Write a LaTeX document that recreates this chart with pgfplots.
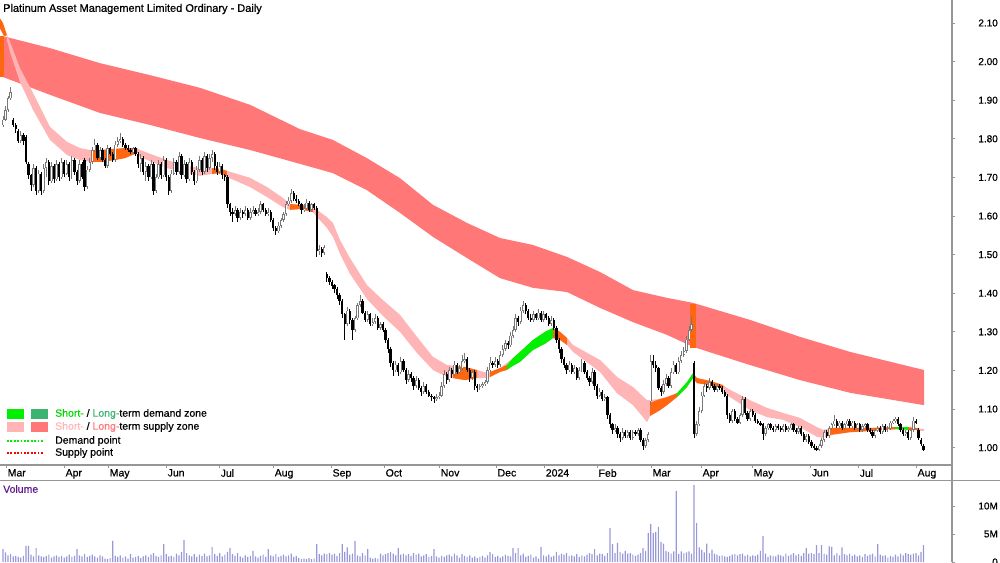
\documentclass[border=0pt]{standalone}
\usepackage{pgfplots}
\pgfplotsset{compat=1.18}
\usepackage{pgfplotstable}
\usepackage{fontspec}
\setmainfont{Liberation Sans}[BoldFont={Liberation Sans}, BoldFeatures={FakeBold=0.6}]
\definecolor{longz}{RGB}{255,119,119}
\definecolor{shortz}{RGB}{255,181,181}
\definecolor{orz}{RGB}{255,102,16}
\definecolor{grz}{RGB}{0,240,0}
\definecolor{dgz}{RGB}{60,179,113}
\definecolor{grt}{RGB}{0,215,0}
\definecolor{volc}{RGB}{152,152,216}
\definecolor{upc}{RGB}{120,120,120}
\definecolor{axc}{RGB}{150,150,150}
\definecolor{volt}{RGB}{95,25,140}
\newcommand\lab{\fontsize{10}{12}\selectfont\bfseries}
\newcommand\mlab{\fontsize{10.5}{12}\selectfont\bfseries}
\newcommand\leg{\fontsize{10.5}{12}\selectfont\bfseries}

\pgfplotstableread{
i o h l c v
0 1.835 1.860 1.830 1.850 2.3
1 1.850 1.885 1.845 1.875 1.7
2 1.875 1.910 1.870 1.905 1.2
3 1.905 1.935 1.900 1.920 1.4
4 1.850 1.855 1.830 1.835 1.0
5 1.835 1.840 1.815 1.825 1.1
6 1.820 1.825 1.790 1.795 0.9
7 1.795 1.820 1.790 1.810 0.8
8 1.810 1.815 1.785 1.795 1.1
9 1.805 1.810 1.735 1.740 2.9
10 1.735 1.740 1.695 1.705 2.9
11 1.705 1.710 1.665 1.680 1.3
12 1.680 1.735 1.675 1.725 1.0
13 1.725 1.730 1.655 1.665 2.5
14 1.665 1.720 1.660 1.710 1.2
15 1.710 1.715 1.655 1.665 1.0
16 1.665 1.735 1.660 1.725 0.9
17 1.725 1.750 1.700 1.740 1.1
18 1.740 1.745 1.680 1.690 1.3
19 1.690 1.740 1.685 1.730 0.8
20 1.730 1.735 1.685 1.695 1.0
21 1.695 1.745 1.690 1.735 1.2
22 1.735 1.740 1.690 1.700 0.9
23 1.700 1.750 1.695 1.740 1.1
24 1.740 1.745 1.700 1.710 0.8
25 1.710 1.745 1.705 1.735 1.0
26 1.735 1.740 1.690 1.700 1.3
27 1.700 1.755 1.695 1.745 0.9
28 1.745 1.750 1.705 1.715 1.1
29 1.715 1.720 1.680 1.690 2.3
30 1.690 1.745 1.685 1.735 1.2
31 1.735 1.740 1.695 1.700 1.0
32 1.745 1.750 1.665 1.675 1.4
33 1.675 1.730 1.670 1.720 0.9
34 1.720 1.750 1.715 1.740 1.1
35 1.740 1.780 1.735 1.770 1.3
36 1.770 1.800 1.765 1.785 1.0
37 1.785 1.790 1.745 1.750 0.8
38 1.750 1.780 1.745 1.770 1.2
39 1.770 1.775 1.740 1.745 1.0
40 1.745 1.750 1.725 1.730 0.6
41 1.730 1.785 1.725 1.775 0.5
42 1.775 1.780 1.755 1.760 0.7
43 1.760 1.765 1.740 1.745 3.75
44 1.745 1.795 1.740 1.785 1.1
45 1.785 1.805 1.780 1.795 0.9
46 1.795 1.815 1.790 1.800 1.2
47 1.800 1.805 1.780 1.785 0.8
48 1.785 1.790 1.770 1.775 1.0
49 1.775 1.785 1.765 1.770 0.6
50 1.770 1.775 1.760 1.765 1.4
51 1.765 1.780 1.760 1.775 0.8
52 1.775 1.780 1.755 1.760 0.9
53 1.760 1.765 1.725 1.735 1.1
54 1.735 1.760 1.715 1.750 0.7
55 1.750 1.755 1.705 1.715 1.0
56 1.715 1.740 1.690 1.730 1.2
57 1.730 1.735 1.690 1.700 0.9
58 1.700 1.745 1.695 1.735 1.3
59 1.735 1.740 1.655 1.665 1.6
60 1.665 1.710 1.660 1.700 1.1
61 1.700 1.745 1.695 1.735 0.9
62 1.735 1.740 1.695 1.705 1.2
63 1.705 1.755 1.700 1.745 3.2
64 1.745 1.750 1.690 1.700 1.4
65 1.700 1.705 1.655 1.665 1.0
66 1.665 1.720 1.660 1.710 1.1
67 1.710 1.750 1.705 1.740 0.9
68 1.740 1.745 1.705 1.715 1.5
69 1.715 1.765 1.710 1.755 1.2
70 1.755 1.760 1.695 1.705 1.8
71 1.705 1.745 1.700 1.735 3.9
72 1.735 1.740 1.685 1.695 1.6
73 1.695 1.750 1.690 1.740 1.2
74 1.740 1.745 1.705 1.715 1.0
75 1.715 1.720 1.680 1.690 1.4
76 1.690 1.730 1.685 1.720 0.9
77 1.720 1.755 1.715 1.745 1.3
78 1.745 1.750 1.705 1.715 1.1
79 1.715 1.765 1.710 1.755 1.5
80 1.755 1.760 1.715 1.725 1.0
81 1.725 1.760 1.720 1.750 1.2
82 1.750 1.770 1.740 1.760 2.7
83 1.760 1.765 1.720 1.730 1.4
84 1.730 1.740 1.705 1.715 1.1
85 1.715 1.740 1.710 1.730 1.6
86 1.730 1.735 1.695 1.705 1.0
87 1.705 1.710 1.690 1.700 1.3
88 1.700 1.705 1.620 1.630 1.8
89 1.630 1.635 1.600 1.610 2.5
90 1.610 1.620 1.585 1.605 1.4
91 1.605 1.625 1.600 1.615 1.1
92 1.615 1.620 1.585 1.595 1.6
93 1.595 1.620 1.590 1.610 1.0
94 1.610 1.615 1.595 1.605 0.8
95 1.605 1.625 1.600 1.615 1.2
96 1.615 1.620 1.590 1.595 0.9
97 1.595 1.620 1.590 1.610 1.1
98 1.610 1.625 1.605 1.615 2.0
99 1.615 1.620 1.600 1.605 1.0
100 1.605 1.620 1.600 1.610 0.8
101 1.610 1.640 1.605 1.630 1.1
102 1.630 1.635 1.610 1.615 1.3
103 1.615 1.620 1.600 1.605 0.9
104 1.605 1.620 1.600 1.610 2.3
105 1.610 1.615 1.585 1.590 1.2
106 1.590 1.595 1.560 1.570 1.0
107 1.570 1.575 1.550 1.560 1.4
108 1.560 1.585 1.555 1.575 0.9
109 1.575 1.595 1.570 1.590 1.1
110 1.590 1.610 1.585 1.605 1.3
111 1.605 1.640 1.600 1.630 1.0
112 1.630 1.650 1.625 1.640 1.2
113 1.640 1.670 1.635 1.660 1.5
114 1.660 1.665 1.640 1.645 0.9
115 1.645 1.655 1.635 1.640 1.1
116 1.640 1.645 1.625 1.630 0.7
117 1.630 1.635 1.605 1.615 0.5
118 1.615 1.630 1.610 1.620 0.6
119 1.620 1.645 1.615 1.635 0.5
120 1.635 1.640 1.610 1.615 0.7
121 1.615 1.635 1.610 1.630 0.5
122 1.630 1.635 1.615 1.620 0.6
123 1.620 1.625 1.495 1.510 3.2
124 1.510 1.525 1.500 1.515 1.4
125 1.515 1.520 1.495 1.505 1.2
126 1.505 1.525 1.500 1.520 1.5
127 1.450 1.455 1.430 1.440 1.4
128 1.440 1.445 1.420 1.430 1.6
129 1.430 1.435 1.410 1.420 1.3
130 1.420 1.425 1.400 1.410 1.5
131 1.410 1.415 1.385 1.395 1.1
132 1.395 1.400 1.370 1.380 1.6
133 1.380 1.385 1.335 1.345 3.2
134 1.345 1.350 1.280 1.320 1.8
135 1.320 1.365 1.315 1.355 2.6
136 1.355 1.360 1.320 1.330 1.3
137 1.330 1.335 1.280 1.305 1.5
138 1.305 1.340 1.300 1.335 3.75
139 1.335 1.375 1.330 1.370 1.2
140 1.370 1.395 1.365 1.380 1.0
141 1.380 1.385 1.345 1.350 1.6
142 1.350 1.355 1.325 1.330 1.2
143 1.330 1.355 1.325 1.345 2.3
144 1.345 1.350 1.315 1.320 0.8
145 1.320 1.335 1.315 1.325 0.6
146 1.325 1.345 1.320 1.335 0.7
147 1.335 1.340 1.305 1.310 0.6
148 1.310 1.325 1.305 1.320 1.5
149 1.320 1.325 1.300 1.305 1.2
150 1.305 1.310 1.270 1.280 1.4
151 1.280 1.285 1.245 1.255 1.6
152 1.255 1.260 1.210 1.220 1.8
153 1.220 1.225 1.185 1.200 1.5
154 1.200 1.225 1.195 1.215 1.2
155 1.215 1.220 1.185 1.195 2.5
156 1.195 1.235 1.190 1.225 1.3
157 1.225 1.230 1.195 1.200 1.5
158 1.200 1.205 1.165 1.175 1.2
159 1.175 1.200 1.170 1.190 1.4
160 1.190 1.195 1.170 1.180 1.1
161 1.180 1.185 1.150 1.160 1.6
162 1.160 1.185 1.155 1.175 1.3
163 1.175 1.180 1.150 1.155 1.5
164 1.155 1.160 1.135 1.145 1.0
165 1.145 1.170 1.140 1.160 1.2
166 1.160 1.165 1.140 1.145 1.4
167 1.145 1.150 1.130 1.135 0.9
168 1.135 1.140 1.120 1.130 1.1
169 1.130 1.135 1.115 1.125 2.3
170 1.125 1.140 1.120 1.130 1.0
171 1.130 1.145 1.125 1.135 0.8
172 1.135 1.170 1.130 1.160 1.1
173 1.160 1.200 1.155 1.190 0.9
174 1.190 1.195 1.165 1.175 1.2
175 1.175 1.210 1.170 1.200 1.3
176 1.200 1.205 1.180 1.190 1.0
177 1.190 1.225 1.185 1.215 1.5
178 1.215 1.220 1.190 1.195 1.2
179 1.195 1.215 1.190 1.205 0.8
180 1.205 1.240 1.200 1.225 1.4
181 1.225 1.245 1.220 1.230 1.1
182 1.230 1.235 1.195 1.200 0.9
183 1.200 1.205 1.170 1.180 1.2
184 1.180 1.200 1.175 1.195 0.8
185 1.195 1.200 1.150 1.160 1.0
186 1.160 1.165 1.145 1.155 0.7
187 1.155 1.165 1.150 1.160 0.9
188 1.160 1.170 1.155 1.165 1.1
189 1.165 1.175 1.160 1.170 0.8
190 1.170 1.210 1.165 1.200 1.2
191 1.200 1.235 1.195 1.220 1.8
192 1.220 1.225 1.205 1.215 1.4
193 1.215 1.235 1.210 1.225 0.9
194 1.225 1.230 1.205 1.215 1.1
195 1.215 1.250 1.210 1.240 0.8
196 1.240 1.265 1.235 1.255 1.0
197 1.255 1.280 1.250 1.270 1.3
198 1.270 1.275 1.255 1.265 1.1
199 1.265 1.300 1.260 1.290 1.0
200 1.290 1.315 1.285 1.305 2.5
201 1.305 1.345 1.300 1.335 1.6
202 1.335 1.340 1.315 1.325 2.5
203 1.325 1.365 1.320 1.355 1.2
204 1.355 1.380 1.350 1.370 1.5
205 1.370 1.375 1.345 1.355 0.9
206 1.355 1.360 1.330 1.335 1.1
207 1.335 1.345 1.325 1.330 1.3
208 1.330 1.355 1.325 1.345 0.8
209 1.345 1.350 1.330 1.335 1.0
210 1.335 1.360 1.330 1.350 0.6
211 1.350 1.355 1.325 1.330 2.7
212 1.330 1.355 1.325 1.345 1.2
213 1.345 1.350 1.330 1.335 1.0
214 1.335 1.340 1.315 1.320 1.3
215 1.320 1.340 1.315 1.330 0.9
216 1.330 1.335 1.305 1.310 1.1
217 1.310 1.315 1.270 1.280 1.8
218 1.280 1.285 1.245 1.255 1.2
219 1.255 1.260 1.220 1.230 1.5
220 1.230 1.235 1.205 1.215 1.3
221 1.215 1.220 1.190 1.200 1.6
222 1.200 1.225 1.195 1.215 1.1
223 1.215 1.220 1.190 1.195 1.2
224 1.195 1.215 1.190 1.205 1.0
225 1.205 1.210 1.175 1.180 1.4
226 1.180 1.210 1.175 1.200 0.9
227 1.200 1.230 1.195 1.220 1.2
228 1.220 1.225 1.190 1.195 1.0
229 1.195 1.200 1.175 1.180 1.3
230 1.180 1.185 1.160 1.170 1.6
231 1.170 1.205 1.165 1.195 1.4
232 1.195 1.200 1.150 1.160 2.3
233 1.160 1.165 1.125 1.135 1.2
234 1.135 1.155 1.130 1.145 1.5
235 1.145 1.150 1.120 1.125 1.4
236 1.125 1.140 1.120 1.130 1.1
237 1.130 1.135 1.075 1.085 1.6
238 1.085 1.090 1.050 1.060 6.1
239 1.060 1.065 1.035 1.045 3.2
240 1.045 1.060 1.040 1.050 1.6
241 1.050 1.055 1.025 1.035 3.4
242 1.035 1.040 1.015 1.025 1.8
243 1.025 1.050 1.020 1.040 1.5
244 1.040 1.045 1.025 1.030 2.0
245 1.030 1.045 1.025 1.040 1.5
246 1.040 1.045 1.020 1.025 1.6
247 1.025 1.045 1.020 1.040 1.3
248 1.040 1.045 1.030 1.035 1.1
249 1.035 1.050 1.030 1.045 1.3
250 1.045 1.050 1.015 1.020 1.6
251 1.020 1.025 0.995 1.005 2.5
252 1.005 1.025 1.000 1.020 2.0
253 1.020 1.040 1.015 1.035 5.2
254 1.120 1.240 1.110 1.225 6.8
255 1.225 1.240 1.205 1.215 5.2
256 1.215 1.225 1.195 1.205 5.4
257 1.205 1.210 1.150 1.155 6.25
258 1.155 1.160 1.135 1.145 3.6
259 1.145 1.175 1.140 1.165 3.3
260 1.165 1.190 1.160 1.180 2.0
261 1.180 1.185 1.155 1.160 1.8
262 1.160 1.205 1.155 1.195 1.5
263 1.195 1.225 1.190 1.215 1.9
264 1.215 1.220 1.190 1.195 12.7
265 1.195 1.235 1.190 1.225 1.4
266 1.225 1.250 1.220 1.240 1.9
267 1.240 1.260 1.235 1.250 1.6
268 1.250 1.290 1.245 1.280 1.7
269 1.280 1.315 1.275 1.305 1.9
270 1.305 1.340 1.300 1.320 1.5
271 1.220 1.225 1.025 1.035 13.75
272 1.035 1.070 1.030 1.060 7.0
273 1.060 1.105 1.055 1.095 2.6
274 1.095 1.145 1.090 1.135 2.2
275 1.135 1.170 1.130 1.160 1.7
276 1.160 1.165 1.145 1.155 3.3
277 1.155 1.180 1.150 1.170 1.6
278 1.170 1.175 1.155 1.160 2.2
279 1.160 1.165 1.145 1.150 1.5
280 1.150 1.165 1.145 1.160 1.3
281 1.160 1.165 1.150 1.155 1.1
282 1.155 1.160 1.140 1.145 1.2
283 1.145 1.150 1.130 1.135 1.0
284 1.135 1.140 1.075 1.085 0.9
285 1.085 1.090 1.065 1.070 1.1
286 1.070 1.100 1.065 1.095 1.3
287 1.095 1.100 1.070 1.075 1.4
288 1.075 1.080 1.060 1.065 1.2
289 1.065 1.090 1.060 1.085 1.4
290 1.085 1.135 1.080 1.125 1.5
291 1.125 1.130 1.085 1.090 1.1
292 1.090 1.095 1.070 1.075 1.3
293 1.075 1.100 1.070 1.095 1.0
294 1.095 1.100 1.080 1.085 1.2
295 1.085 1.090 1.065 1.070 1.1
296 1.070 1.075 1.060 1.065 1.3
297 1.065 1.070 1.055 1.060 2.0
298 1.060 1.065 1.020 1.035 4.6
299 1.035 1.055 1.030 1.050 1.5
300 1.050 1.065 1.045 1.060 0.9
301 1.060 1.065 1.045 1.050 1.2
302 1.050 1.055 1.040 1.045 1.1
303 1.045 1.060 1.040 1.055 1.0
304 1.055 1.060 1.045 1.050 1.3
305 1.050 1.055 1.040 1.045 1.2
306 1.045 1.060 1.040 1.055 1.0
307 1.055 1.060 1.040 1.045 1.5
308 1.045 1.055 1.040 1.050 1.1
309 1.050 1.065 1.045 1.060 1.3
310 1.060 1.065 1.040 1.045 1.6
311 1.045 1.050 1.035 1.040 1.2
312 1.040 1.055 1.035 1.050 1.4
313 1.050 1.055 1.030 1.035 1.1
314 1.035 1.040 1.015 1.020 1.6
315 1.020 1.035 1.015 1.030 2.5
316 1.030 1.035 1.010 1.015 1.5
317 1.015 1.020 1.000 1.005 1.6
318 1.005 1.010 0.995 1.000 1.4
319 1.000 1.005 0.990 0.995 3.0
320 0.995 1.010 0.990 1.005 1.6
321 1.005 1.025 1.000 1.020 3.0
322 1.020 1.045 1.015 1.040 1.5
323 1.040 1.045 1.025 1.030 1.3
324 1.030 1.055 1.025 1.050 2.8
325 1.050 1.065 1.045 1.060 2.7
326 1.060 1.085 1.055 1.070 1.2
327 1.070 1.075 1.050 1.055 1.6
328 1.055 1.070 1.050 1.065 1.2
329 1.065 1.070 1.045 1.050 2.6
330 1.050 1.065 1.045 1.060 1.4
331 1.060 1.075 1.055 1.070 1.2
332 1.070 1.075 1.050 1.055 1.5
333 1.055 1.070 1.050 1.065 1.1
334 1.065 1.070 1.045 1.050 1.3
335 1.050 1.065 1.045 1.060 1.0
336 1.060 1.065 1.040 1.045 1.2
337 1.045 1.060 1.040 1.055 0.9
338 1.055 1.065 1.050 1.060 1.4
339 1.060 1.065 1.040 1.045 1.1
340 1.045 1.050 1.035 1.040 1.3
341 1.040 1.045 1.025 1.030 1.5
342 1.030 1.050 1.025 1.045 1.0
343 1.045 1.055 1.040 1.050 3.2
344 1.050 1.055 1.035 1.040 1.3
345 1.040 1.060 1.035 1.055 1.1
346 1.055 1.060 1.040 1.045 1.2
347 1.045 1.055 1.040 1.050 0.8
348 1.050 1.070 1.045 1.065 1.1
349 1.065 1.075 1.060 1.070 0.9
350 1.070 1.080 1.065 1.075 1.3
351 1.075 1.080 1.055 1.060 1.0
352 1.060 1.065 1.040 1.045 1.5
353 1.045 1.050 1.030 1.035 1.2
354 1.035 1.045 1.030 1.040 1.6
355 1.040 1.045 1.020 1.025 1.4
356 1.025 1.050 1.020 1.045 1.3
357 1.045 1.080 1.040 1.070 1.5
358 1.070 1.075 1.060 1.065 1.6
359 1.045 1.050 1.020 1.025 1.2
360 1.020 1.025 1.005 1.010 1.8
361 1.005 1.010 0.990 0.995 3.0
}\candles

\pgfplotsset{
  candle/.style n args={2}{draw=none, mark=none, mark size=0pt, forget plot,
    error bars/.cd, y dir=both, y explicit, error mark=none,
    error bar style={line width=#1, draw=#2, solid}, /pgfplots/.cd},
}

\begin{document}
\begin{tikzpicture}
\useasboundingbox (0pt,0pt) rectangle (1000pt,562pt);
\begin{axis}[
  at={(0pt,97pt)}, anchor=south west, scale only axis,
  width=952pt, height=465pt,
  xmin=-1.176, xmax=372.157, ymin=0.9550, ymax=2.1596,
  axis x line*=bottom, axis y line*=right,
  axis line style={draw=axc, line width=1.2pt, -},
  xtick={1.18,23.9,41.2,63.9,84.7,105.9,128.6,149.4,171,193.3,212.2,232.9,254.1,273.7,293.7,316.5,335.3,358.0},
  xticklabels={Mar,Apr,May,Jun,Jul,Aug,Sep,Oct,Nov,Dec,2024,Feb,Mar,Apr,May,Jun,Jul,Aug},
  ytick={1.0,1.1,1.2,1.3,1.4,1.5,1.6,1.7,1.8,1.9,2.0,2.1},
  yticklabels={1.00,1.10,1.20,1.30,1.40,1.50,1.60,1.70,1.80,1.90,2.00,2.10},
  tick align=outside, major tick length=3pt,
  tick style={draw=axc, line width=0.8pt},
  xticklabel style={anchor=north west, inner sep=0pt, font=\mlab, xshift=1.5pt, yshift=-1pt},
  yticklabel style={anchor=east, inner sep=0pt, font=\lab, xshift=43pt},
  clip=true,
]
% long-term supply zone
\addplot[fill=longz, draw=none, forget plot] coordinates {
(0,2.066) (18.4,2.035) (38,1.996) (57.6,1.965) (77.3,1.932) (96.9,1.888) (116.5,1.825) (129.4,1.797) (142.7,1.750) (155.7,1.698) (168.6,1.629) (182,1.582) (194.9,1.543) (207.8,1.525) (221.2,1.494) (234.1,1.455) (247.1,1.408) (260.4,1.388) (270.6,1.375) (292.9,1.331) (312.5,1.287) (332.2,1.248) (361.2,1.201)
(361.2,1.110) (332.2,1.142) (312.5,1.175) (292.9,1.214) (270.6,1.261) (260.4,1.292) (247.1,1.325) (234.1,1.362) (221.2,1.403) (207.8,1.414) (194.9,1.439) (182,1.491) (168.6,1.546) (155.7,1.608) (142.7,1.667) (129.4,1.711) (116.5,1.735) (96.9,1.771) (77.3,1.802) (57.6,1.836) (38,1.867) (18.4,1.914) (0,1.960)};
% short-term supply zone
\addplot[fill=shortz, draw=none, forget plot] coordinates {
(1.57,2.069) (2.75,2.051) (6.67,1.983) (11.76,1.919) (18.43,1.831) (25.10,1.792) (30.20,1.776) (34.12,1.771) (38.04,1.771) (43.92,1.774) (47.84,1.776) (52.55,1.776) (53.73,1.771) (64.31,1.745) (70.59,1.732) (77.25,1.724) (81.96,1.724) (85.10,1.722) (87.84,1.717) (96.86,1.699) (103.53,1.675) (109.80,1.647) (112.55,1.631) (116.47,1.629) (121.57,1.623) (123.14,1.616) (127.06,1.597) (129.41,1.582) (132.16,1.538) (136.08,1.491) (142.75,1.421) (149.02,1.382) (155.69,1.344) (162.35,1.287) (168.63,1.235) (174.12,1.214) (181.18,1.209) (185.88,1.201) (190.20,1.193) (194.90,1.206) (200.00,1.232) (202.75,1.248) (207.84,1.279) (212.55,1.300) (215.69,1.310) (218.43,1.300) (221.18,1.284) (223.53,1.266) (234.12,1.227) (240.78,1.183) (247.06,1.157) (252.55,1.123) (257.65,1.126) (260.39,1.131) (264.31,1.141) (268.24,1.170) (270.59,1.193) (272.16,1.180) (277.25,1.173) (282.35,1.162) (283.92,1.154) (292.94,1.123) (299.61,1.103) (305.88,1.090) (312.55,1.077) (319.22,1.053) (321.57,1.046) (325.49,1.051) (332.16,1.051) (340.00,1.051) (352.94,1.053) (361.18,1.048)
(361.18,1.043) (352.94,1.048) (340.00,1.043) (332.16,1.040) (325.49,1.033) (321.57,1.025) (319.22,1.028) (312.55,1.053) (305.88,1.072) (299.61,1.079) (292.94,1.097) (283.92,1.136) (282.35,1.154) (277.25,1.162) (272.16,1.167) (270.59,1.180) (268.24,1.157) (264.31,1.131) (260.39,1.110) (257.65,1.097) (253.73,1.082) (252.55,1.066) (247.06,1.110) (240.78,1.141) (234.12,1.196) (223.53,1.248) (221.18,1.266) (218.43,1.279) (215.69,1.284) (212.55,1.269) (207.84,1.253) (202.75,1.222) (200.00,1.212) (194.90,1.196) (190.20,1.180) (185.88,1.180) (181.18,1.175) (174.12,1.183) (168.63,1.201) (162.35,1.245) (155.69,1.300) (149.02,1.341) (142.75,1.385) (136.08,1.450) (132.16,1.502) (129.41,1.546) (127.06,1.569) (123.14,1.597) (121.57,1.610) (116.47,1.618) (112.55,1.616) (109.80,1.623) (103.53,1.649) (96.86,1.675) (87.84,1.701) (85.10,1.711) (81.96,1.709) (77.25,1.704) (70.59,1.714) (64.31,1.724) (53.73,1.753) (52.55,1.763) (47.84,1.750) (43.92,1.745) (38.04,1.740) (34.12,1.740) (30.20,1.745) (25.10,1.758) (18.43,1.797) (11.76,1.875) (6.67,1.947) (2.75,2.025) (1.57,2.056)};
% orange segments
\addplot[fill=orz, draw=none, forget plot] coordinates {(-1.18,2.112) (0,2.100) (1.6,2.068) (0.4,2.066) (-1.18,2.086)};
\addplot[fill=orz, draw=none, forget plot] coordinates {(-1.18,2.066) (0.3,2.066) (0.3,1.960) (-1.18,1.960)};
\addplot[fill=orz, draw=none, forget plot] coordinates {(34.90,1.771) (38.04,1.771) (43.92,1.774) (47.84,1.776) (52.55,1.776) (52.55,1.763) (47.84,1.750) (43.92,1.745) (38.04,1.740) (34.90,1.740)};
\addplot[fill=orz, draw=none, forget plot] coordinates {(81.96,1.724) (85.10,1.722) (87.84,1.717) (87.84,1.704) (85.10,1.711) (81.96,1.709)};
\addplot[fill=orz, draw=none, forget plot] coordinates {(112.55,1.631) (116.47,1.629) (121.57,1.623) (121.57,1.610) (116.47,1.618) (112.55,1.616)};
\addplot[fill=orz, draw=none, forget plot] coordinates {(176.47,1.211) (181.18,1.209) (185.88,1.201) (185.88,1.180) (181.18,1.175) (176.47,1.180)};
\addplot[fill=orz, draw=none, forget plot] coordinates {(190.98,1.196) (194.90,1.206) (197.65,1.214) (197.65,1.201) (194.90,1.196) (190.98,1.183)};
\addplot[fill=orz, draw=none, forget plot] coordinates {(215.69,1.310) (218.43,1.300) (221.18,1.284) (221.18,1.266) (218.43,1.279) (215.69,1.284)};
\addplot[fill=orz, draw=none, forget plot] coordinates {(253.73,1.116) (257.65,1.126) (260.39,1.131) (264.31,1.141) (264.31,1.131) (260.39,1.110) (257.65,1.097) (253.73,1.082)};
\addplot[fill=orz, draw=none, forget plot] coordinates {(270.59,1.193) (272.16,1.180) (277.25,1.173) (282.35,1.162) (282.35,1.154) (277.25,1.162) (272.16,1.167) (270.59,1.180)};
\addplot[fill=orz, draw=none, forget plot] coordinates {(324.31,1.051) (332.16,1.051) (340.00,1.051) (349.80,1.053) (349.80,1.048) (340.00,1.043) (332.16,1.040) (324.31,1.033)};
\addplot[fill=orz, draw=none, forget plot] coordinates {(354.90,1.053) (358.82,1.051) (358.82,1.046) (354.90,1.046)};
\addplot[fill=orz, draw=none, forget plot] coordinates {(269.4,1.372) (271.8,1.372) (271.8,1.258) (269.4,1.258)};
% green segments
\addplot[fill=grz, draw=none, forget plot] coordinates {(197.65,1.214) (200.00,1.232) (202.75,1.248) (207.84,1.279) (212.55,1.300) (215.69,1.310) (215.69,1.284) (212.55,1.269) (207.84,1.253) (202.75,1.222) (200.00,1.212) (197.65,1.201)};
\addplot[fill=grz, draw=none, forget plot] coordinates {(264.31,1.141) (268.24,1.170) (270.59,1.193) (270.59,1.180) (268.24,1.157) (264.31,1.131)};
\addplot[fill=grz, draw=none, forget plot] coordinates {(349.80,1.053) (354.90,1.053) (354.90,1.046) (349.80,1.048)};
% candles: wicks
\addplot[restrict expr to domain={\thisrow{c}-\thisrow{o}}{0:1}, candle={0.8pt}{upc}]
  table[x=i, y expr={(\thisrow{h}+\thisrow{l})/2}, y error expr={(\thisrow{h}-\thisrow{l})/2}] {\candles};
\addplot[restrict expr to domain={\thisrow{c}-\thisrow{o}}{-1:-0.0001}, candle={0.8pt}{black}]
  table[x=i, y expr={(\thisrow{h}+\thisrow{l})/2}, y error expr={(\thisrow{h}-\thisrow{l})/2}] {\candles};
% candles: bodies (hollow up, filled down)
\addplot[restrict expr to domain={\thisrow{c}-\thisrow{o}}{0:1}, candle={2.3pt}{upc}]
  table[x=i, y expr={(\thisrow{o}+\thisrow{c})/2}, y error expr={abs(\thisrow{c}-\thisrow{o})/2}] {\candles};
\addplot[restrict expr to domain={\thisrow{c}-\thisrow{o}}{0:1}, candle={0.7pt}{white}]
  table[x=i, y expr={(\thisrow{o}+\thisrow{c})/2}, y error expr={max(abs(\thisrow{c}-\thisrow{o})/2-0.002,0)}] {\candles};
\addplot[restrict expr to domain={\thisrow{c}-\thisrow{o}}{-1:-0.0001}, candle={2.3pt}{black}]
  table[x=i, y expr={(\thisrow{o}+\thisrow{c})/2}, y error expr={abs(\thisrow{c}-\thisrow{o})/2}] {\candles};
\end{axis}

\begin{axis}[
  at={(0pt,0pt)}, anchor=south west, scale only axis,
  width=952pt, height=82pt,
  xmin=-1.176, xmax=372.157, ymin=0, ymax=14.64,
  axis x line=none, axis y line*=right,
  axis line style={draw=axc, line width=1.2pt, -},
  ytick={0,5,10}, yticklabels={0,5M,10M},
  tick align=outside, major tick length=3pt,
  tick style={draw=axc, line width=0.8pt},
  yticklabel style={anchor=east, inner sep=0pt, font=\lab, xshift=43pt},
  clip=true,
]
\addplot[ybar, bar width=1.2pt, fill=volc, draw=none] table[x=i, y=v] {\candles};
\end{axis}

% frame lines
\draw[axc, line width=1pt] (0pt,82pt) -- (1000pt,82pt);
\draw[axc, line width=1.2pt] (952pt,0pt) -- (952pt,562pt);

% title and panel label
\node[anchor=west, inner sep=0pt, font=\fontsize{11}{13}\selectfont\bfseries, text=black] at (3pt,553pt) {Platinum Asset Management Limited Ordinary - Daily};
\node[anchor=west, inner sep=0pt, font=\leg, text=volt] at (3pt,73pt) {Volume};

% legend
\fill[grz] (7pt,143pt) rectangle (24pt,153pt);
\fill[dgz] (31pt,143pt) rectangle (48pt,153pt);
\node[anchor=west, inner sep=0pt, font=\leg] at (55pt,148pt) {\textcolor{grt}{Short-} / \textcolor{dgz}{Long-}term demand zone};
\fill[shortz] (7pt,130pt) rectangle (24pt,140pt);
\fill[longz] (31pt,130pt) rectangle (48pt,140pt);
\node[anchor=west, inner sep=0pt, font=\leg] at (55pt,135pt) {\textcolor{shortz}{Short-} / \textcolor{longz}{Long-}term supply zone};
\draw[grz, line width=1.8pt, dash pattern=on 1.8pt off 1.6pt] (7pt,121pt) -- (44pt,121pt);
\node[anchor=west, inner sep=0pt, font=\leg] at (55pt,121pt) {Demand point};
\draw[red, line width=1.8pt, dash pattern=on 1.8pt off 1.6pt] (7pt,109pt) -- (44pt,109pt);
\node[anchor=west, inner sep=0pt, font=\leg] at (55pt,109pt) {Supply point};
\end{tikzpicture}
\end{document}
